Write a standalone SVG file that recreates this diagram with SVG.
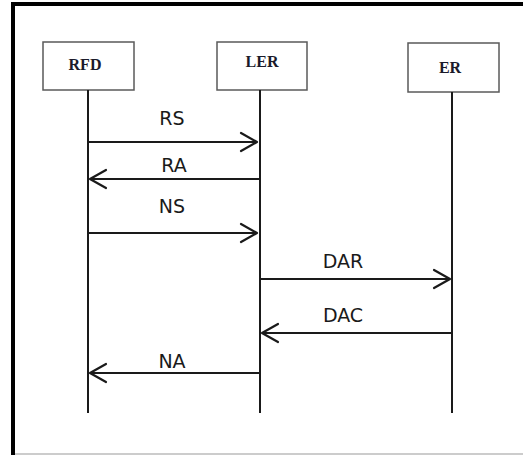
<svg xmlns="http://www.w3.org/2000/svg" width="523" height="455" viewBox="0 0 523 455">
<style>
.box{fill:#fff;stroke:#5a5a5a;stroke-width:1.5}
.bl{font-family:"Liberation Serif",serif;font-weight:bold;font-size:16px;fill:#1a1a2a;text-anchor:middle}
.life{stroke:#1a1a1a;stroke-width:2;fill:none}
.msg{stroke:#1a1a1a;stroke-width:2.2;fill:none}
.head{stroke:#1a1a1a;stroke-width:2.2;fill:none;stroke-linecap:round;stroke-linejoin:round}
.ml{font-family:"DejaVu Sans",sans-serif;font-size:19px;fill:#1a1a1a;text-anchor:middle}
</style>
<rect x="0" y="0" width="523" height="455" fill="#fff"/>
<g id="frame">
<line x1="11" y1="4" x2="523" y2="4" stroke="#000" stroke-width="4"/>
<line x1="13" y1="2" x2="13" y2="455" stroke="#000" stroke-width="4"/>
<line x1="15" y1="454" x2="523" y2="454" stroke="#bbb" stroke-width="1.5"/>
</g>
<g id="RFD">
<rect class="box" x="43" y="42" width="91" height="48"/>
<text class="bl" x="85" y="70">RFD</text>
<line class="life" x1="88" y1="90" x2="88" y2="413"/>
</g>
<g id="LER">
<rect class="box" x="217" y="42" width="90" height="48"/>
<text class="bl" x="262" y="67">LER</text>
<line class="life" x1="260" y1="90" x2="260" y2="413"/>
</g>
<g id="ER">
<rect class="box" x="408" y="43" width="91" height="49"/>
<text class="bl" x="450" y="73">ER</text>
<line class="life" x1="452" y1="92" x2="452" y2="413" stroke-width="3"/>
</g>
<g id="connectors">
<line class="msg" x1="88" y1="142" x2="257" y2="142"/>
<polyline class="head" points="241,133 257,142 241,151"/>
<text class="ml" x="172" y="125">RS</text>
<line class="msg" x1="90" y1="179" x2="260" y2="179"/>
<polyline class="head" points="106,170 90,179 106,188"/>
<text class="ml" x="174" y="172">RA</text>
<line class="msg" x1="88" y1="233" x2="257" y2="233"/>
<polyline class="head" points="241,224 257,233 241,242"/>
<text class="ml" x="172" y="213">NS</text>
<line class="msg" x1="260" y1="279" x2="450" y2="279"/>
<polyline class="head" points="434,270 450,279 434,288"/>
<text class="ml" x="343" y="268">DAR</text>
<line class="msg" x1="262" y1="333" x2="452" y2="333"/>
<polyline class="head" points="278,324 262,333 278,342"/>
<text class="ml" x="343" y="322">DAC</text>
<line class="msg" x1="90" y1="373" x2="260" y2="373"/>
<polyline class="head" points="106,364 90,373 106,382"/>
<text class="ml" x="172" y="368">NA</text>
</g>
</svg>
